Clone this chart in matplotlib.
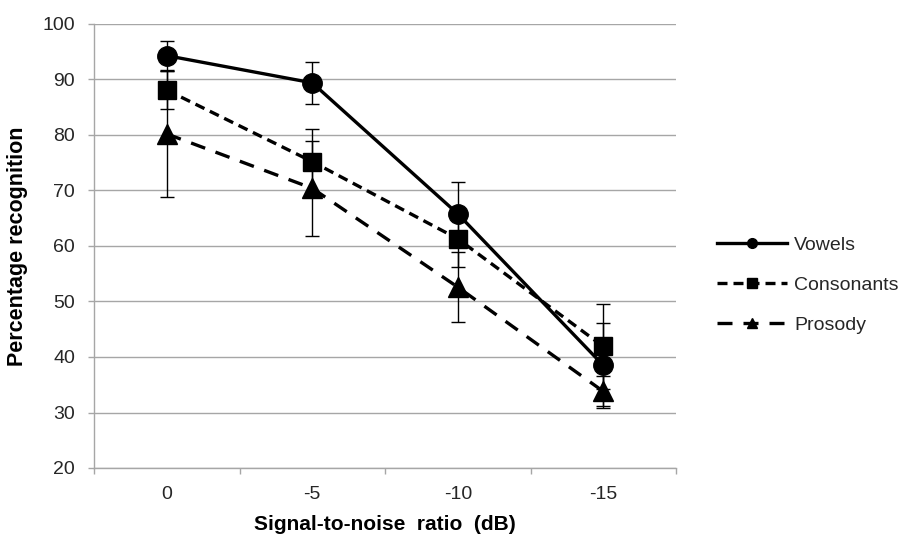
import matplotlib.pyplot as plt
from matplotlib.lines import Line2D

plt.rcParams['font.family'] = ['Liberation Sans', 'DejaVu Sans']

snr = ["0", "-5", "-10", "-15"]

vowels = [94.3, 89.4, 65.8, 38.5]
vowels_err = [2.6, 3.8, 5.8, 7.7]
consonants = [88.1, 75.2, 61.3, 41.9]
consonants_err = [3.5, 5.9, 5.0, 7.7]
prosody = [80.2, 70.4, 52.6, 33.8]
prosody_err = [11.3, 8.6, 6.3, 2.7]

fig = plt.figure(figsize=(9.11, 5.41), dpi=100)
ax = fig.add_axes([94 / 911, 1 - 468 / 541, 582 / 911, 444 / 541])

x = list(range(len(snr)))
grey = "#a6a6a6"
txt = "#262626"

series = [
    ("Vowels", vowels, vowels_err, "o", 14, "-", 7),
    ("Consonants", consonants, consonants_err, "s", 13.5, (0, (3, 1.8)), 6.5),
    ("Prosody", prosody, prosody_err, "^", 15, (0, (4.5, 3.3)), 7),
]

handles = []
for name, vals, err, mk, ms, ls, lms in series:
    ax.errorbar(x, vals, yerr=err, fmt="none", ecolor="black", elinewidth=1,
                capsize=4.7, capthick=1, zorder=2)
    ax.plot(x, vals, color="black", linestyle=ls, linewidth=2.4,
            marker=mk, markersize=ms, markerfacecolor="black",
            markeredgecolor="black", zorder=3)
    handles.append(Line2D([], [], color="black", linestyle=ls, linewidth=2.4,
                          marker=mk, markersize=lms, label=name))

ax.set_ylim(20, 100)
ax.set_xlim(-0.5, 3.5)
ax.set_yticks(range(20, 101, 10))
ax.yaxis.grid(True, color=grey, linewidth=1)
ax.set_axisbelow(True)

ax.set_xticks(x)
ax.set_xticklabels(snr)
ax.set_xticks([-0.5, 0.5, 1.5, 2.5, 3.5], minor=True)
ax.tick_params(axis="x", which="major", length=0, pad=13, labelsize=14,
               colors=txt)
ax.tick_params(axis="x", which="minor", length=4.5, color=grey, width=1)
ax.tick_params(axis="y", length=4.5, color=grey, width=1, labelsize=14,
               labelcolor=txt, pad=9)

for side in ["top", "right"]:
    ax.spines[side].set_visible(False)
for side in ["left", "bottom"]:
    ax.spines[side].set_color(grey)
    ax.spines[side].set_linewidth(1)

ax.set_xlabel("Signal-to-noise  ratio  (dB)", fontsize=15, fontweight="bold",
              va="center")
ax.xaxis.set_label_coords(0.5, (468 - 524) / 444)
ax.set_ylabel("Percentage recognition", fontsize=15.5, fontweight="bold",
              va="center")
ax.yaxis.set_label_coords((18 - 94) / 582, 0.5)

leg = fig.legend(handles=handles, loc="upper left",
                 bbox_to_anchor=(699 / 911, 1 - 219 / 541), frameon=False,
                 fontsize=14, handlelength=3.65, labelspacing=1.15,
                 handletextpad=0.35)
for t in leg.get_texts():
    t.set_color(txt)

fig.savefig("out.png", dpi=100)
